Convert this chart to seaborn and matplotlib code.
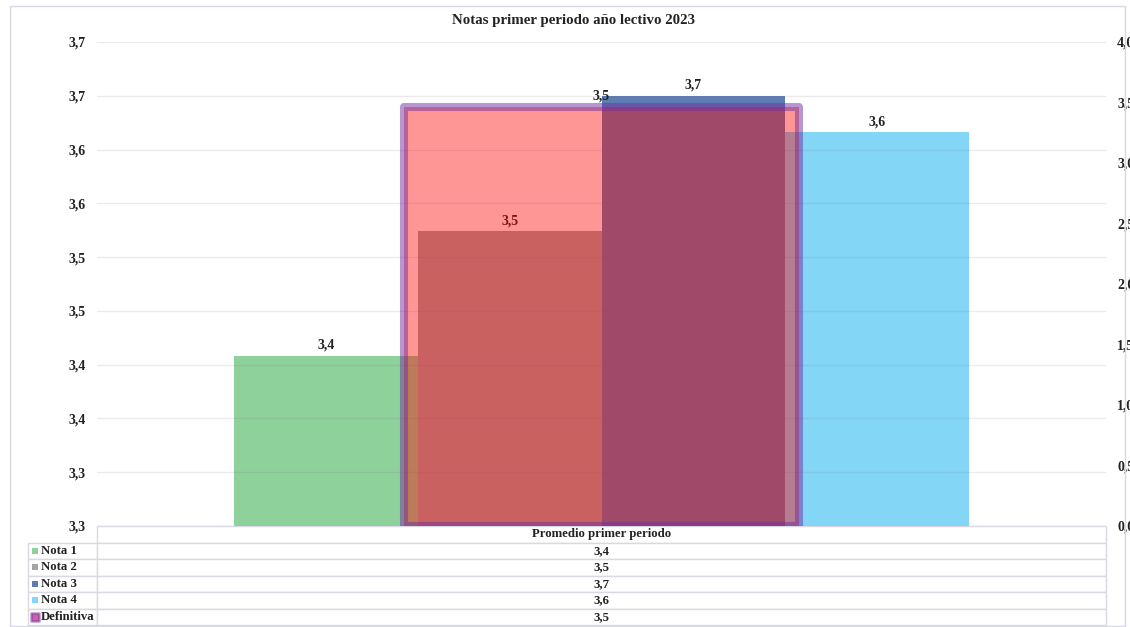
"""
Notas primer periodo - barras por nota + barra definitiva en eje secundario,
con tabla de datos estilo Excel debajo.
"""
import matplotlib
matplotlib.use("Agg")
import matplotlib.pyplot as plt
from matplotlib.patches import Rectangle
import pandas as pd
import seaborn as sns

# ── Datos ─────────────────────────────────────────────────────────────────────
TITULO = "Notas primer periodo año lectivo 2023"
CATEGORIA = "Promedio primer periodo"
NOTAS = ["Nota 1", "Nota 2", "Nota 3", "Nota 4"]
VALORES = [3.418, 3.534, 3.660, 3.626]
DEFINITIVA_LABEL = "Definitiva"
DEFINITIVA = 3.463
Y_TICKS = [3.26, 3.31, 3.36, 3.41, 3.46, 3.51, 3.56, 3.61, 3.66, 3.71]
Y2_TICKS = [0.0, 0.5, 1.0, 1.5, 2.0, 2.5, 3.0, 3.5, 4.0]

# ── Estilo ────────────────────────────────────────────────────────────────────
COLORES = ["#8ED19B", "#A5A5A5", "#5E7DB2", "#83D6F6"]
DEF_FILL = (1.0, 0.0, 0.0, 0.41)
DEF_EDGE = (0.44, 0.19, 0.63, 0.5)
TEXTO = "#222222"
LINEA_TABLA = "#D9D9E4"
GRID_RGB = (0.45, 0.45, 0.58)

sns.set_style("white")
plt.rcParams["font.family"] = ["Liberation Serif", "DejaVu Serif"]
plt.rcParams["font.weight"] = "bold"
plt.rcParams["text.color"] = TEXTO


def fmt(v):
    return f"{v:.1f}".replace(".", ",")


W, H = 1130, 627
fig = plt.figure(figsize=(W / 100, H / 100), dpi=100)
ax1 = fig.add_axes([97 / W, 1 - 526 / H, 1009 / W, 484 / H])

df = pd.DataFrame({"periodo": [CATEGORIA] * len(NOTAS), "nota": NOTAS, "valor": VALORES})
sns.barplot(data=df, x="periodo", y="valor", hue="nota", palette=COLORES,
            width=0.728, saturation=1, errorbar=None, legend=False,
            linewidth=0, ax=ax1)
ax1.set_ylim(Y_TICKS[0], Y_TICKS[-1])
ax1.set_yticks(Y_TICKS)
ax1.set_yticklabels([fmt(t) for t in Y_TICKS])
ax1.set_xlim(-0.5, 0.5)
ax1.set_xticks([])
ax1.set_xlabel("")
ax1.set_ylabel("")
ax1.yaxis.grid(True, color=GRID_RGB, alpha=0.14, linewidth=1)
ax1.set_axisbelow(False)
ax1.tick_params(axis="y", length=0, pad=8, labelsize=10, labelcolor=TEXTO)
for s in ax1.spines.values():
    s.set_visible(False)
for cont, v in zip(ax1.containers, VALORES):
    ax1.bar_label(cont, labels=[fmt(v)], padding=3, fontsize=10, color=TEXTO)

# ── Definitiva (eje secundario) ───────────────────────────────────────────────
ax2 = ax1.twinx()
sns.barplot(x=[CATEGORIA], y=[DEFINITIVA], width=0.3905, color="red",
            saturation=1, errorbar=None, ax=ax2)
for p in ax2.patches:
    p.set_facecolor(DEF_FILL)
    p.set_edgecolor(DEF_EDGE)
    p.set_linewidth(5.8)
    p.set_joinstyle("round")
ax2.set_ylim(Y2_TICKS[0], Y2_TICKS[-1])
ax2.set_yticks(Y2_TICKS)
ax2.set_yticklabels([fmt(t) for t in Y2_TICKS])
ax2.set_xlim(-0.5, 0.5)
ax2.set_xticks([])
ax2.set_xlabel("")
ax2.set_ylabel("")
ax2.tick_params(axis="y", length=0, pad=8, labelsize=10, labelcolor=TEXTO)
for s in ax2.spines.values():
    s.set_visible(False)
ax2.bar_label(ax2.containers[0], labels=[fmt(DEFINITIVA)], padding=3,
              fontsize=10, color=TEXTO)

# ── Tabla de datos ────────────────────────────────────────────────────────────
filas = NOTAS + [DEFINITIVA_LABEL]
valores = VALORES + [DEFINITIVA]
tab_h = 99 / 484
tabla = ax1.table(cellText=[[n, fmt(v)] for n, v in zip(filas, valores)],
                  colLabels=["", CATEGORIA], cellLoc="center",
                  bbox=[-69 / 1009, -tab_h, 1078 / 1009, tab_h])
tabla.auto_set_font_size(False)
tabla.set_fontsize(9.2)
for (r, c), cell in tabla.get_celld().items():
    cell.set_edgecolor(LINEA_TABLA)
    cell.set_linewidth(1)
    cell.set_width(69 if c == 0 else 1009)
    cell.get_text().set_fontweight("bold")
    cell.get_text().set_color(TEXTO)
    if c == 0:
        cell.get_text().set_horizontalalignment("left")
        cell.PAD = 0.19
tabla[(0, 0)].visible_edges = ""

# claves de leyenda dentro de la tabla
mx = (34.5 - 97) / 1009
for k, col in enumerate(COLORES):
    ax1.scatter([mx], [-(k + 1.5) * tab_h / 6], marker="s", s=14, color=col,
                transform=ax1.transAxes, clip_on=False, zorder=10, linewidths=0)
ax1.scatter([mx], [-(len(COLORES) + 1.5) * tab_h / 6], marker="s", s=34,
            facecolor=(0.82, 0.38, 0.62), edgecolor=DEF_EDGE, linewidths=1.8,
            transform=ax1.transAxes, clip_on=False, zorder=10)

# ── Título y marco ────────────────────────────────────────────────────────────
fig.text(573 / W, 1 - 20.7 / H, TITULO, ha="center", va="center",
         fontsize=10.7, fontweight="bold", color=TEXTO)
fig.add_artist(Rectangle((9.5 / W, 1 - 626 / H), (1125 - 9.5) / W, (626 - 5.5) / H,
                         transform=fig.transFigure, fill=False,
                         edgecolor=LINEA_TABLA, linewidth=1))

fig.savefig("out.png", dpi=100)
plt.close(fig)
